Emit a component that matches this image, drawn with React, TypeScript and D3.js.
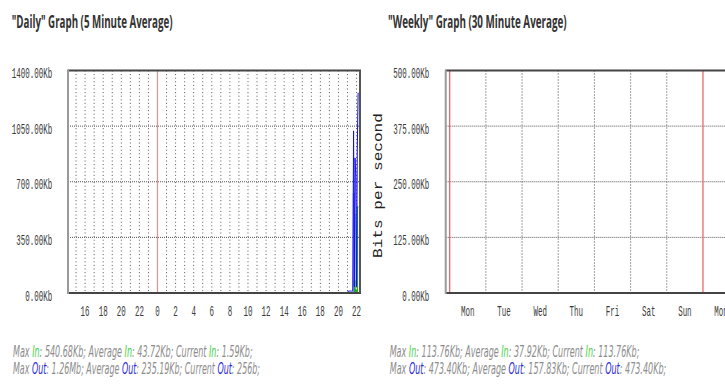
import React, { useLayoutEffect, useRef, useState } from "react";
import * as d3 from "d3";

// ---------- data ----------
const dailyTicks = [0, 350, 700, 1050, 1400];
const weeklyTicks = [0, 125, 250, 375, 500];
const dailyHourLabels = [-8, -6, -4, -2, 0, 2, 4, 6, 8, 10, 12, 14, 16, 18, 20, 22];
const dailyHourLines = [-9, -8, -7, -6, -5, -4, -3, -2, -1, 1, 2, 3, 4, 5, 6, 7, 8, 9, 10, 11, 12, 13, 14, 15, 16, 17, 18, 19, 20, 21, 22];
const weekDays = ["Mon", "Tue", "Wed", "Thu", "Fri", "Sat", "Sun", "Mon"];

// 5-minute samples (hours after midnight) at the end of the daily graph
const dailyTimes = [21.0, 21.08, 21.17, 21.25, 21.33, 21.42, 21.5, 21.58, 21.67, 21.75, 21.83, 21.92, 22.0, 22.08, 22.17];
const dailyOut = [0, 12, 12, 12, 12, 12, 12, 12, 1020, 40, 850, 730, 40, 900, 1260];
const dailyOutFill = [0, 0, 0, 0, 0, 0, 0, 630, 630, 630, 500, 0, 0, 0, 0];
const dailyIn = [0, 0, 0, 0, 0, 0, 0, 0, 0, 80, 20, 10, 20, 543, 540];

// weekly samples (days after Monday 00:00) – at the far right edge
const weeklyTimes = [7.85, 7.9];
const weeklyIn = [0, 113.76];
const weeklyOut = [0, 473.4];

const dailyStatsIn = ["540.68Kb", "43.72Kb", "1.59Kb"];
const dailyStatsOut = ["1.26Mb", "235.19Kb", "256b"];
const weeklyStatsIn = ["113.76Kb", "37.92Kb", "113.76Kb"];
const weeklyStatsOut = ["473.40Kb", "157.83Kb", "473.40Kb"];

// ---------- helpers ----------
function FitText({ x, y, width, anchor = "start", rotate = 0, fontFamily, fontSize, fontWeight, fontStyle, fill, children }: any) {
  const ref = useRef<SVGTextElement>(null);
  const [s, setS] = useState(1);
  useLayoutEffect(() => {
    if (ref.current) {
      const w = ref.current.getBBox().width;
      if (w > 0) setS(width / w);
    }
  }, [width]);
  return (
    <g transform={`translate(${x},${y}) rotate(${rotate}) scale(${s},1)`}>
      <text
        ref={ref}
        x={0}
        y={0}
        textAnchor={anchor}
        fontFamily={fontFamily}
        fontSize={fontSize}
        fontWeight={fontWeight}
        fontStyle={fontStyle}
        fill={fill}
      >
        {children}
      </text>
    </g>
  );
}

const AXIS_FONT = "'Liberation Mono', 'DejaVu Sans Mono', monospace";
const AXIS_SIZE = 14;
const AXIS_COLOR = "#3a3a3a";
const CHAR_W = 4.5;

function Frame({ left, right, top, bottom }: any) {
  return (
    <g>
      <line x1={left} x2={right + 1} y1={top} y2={top} stroke="#444" strokeWidth={2} />
      <line x1={left} x2={right + 1} y1={bottom} y2={bottom} stroke="#444" strokeWidth={2} />
      <line x1={right} x2={right} y1={top} y2={bottom} stroke="#555" strokeWidth={2} />
      <line x1={left} x2={left} y1={top - 1} y2={bottom + 1} stroke="#9a9a9a" strokeWidth={2} />
    </g>
  );
}

function Stats({ x, y, width1, width2, ins, outs }: any) {
  const gray = "#8c8c8c";
  const green = "#3fd23f";
  const blue = "#2a2ad8";
  const line = (name: string, color: string, vals: string[]) => (
    <>
      <tspan>Max </tspan>
      <tspan fill={color}>{name}</tspan>
      <tspan>: {vals[0]}; Average </tspan>
      <tspan fill={color}>{name}</tspan>
      <tspan>: {vals[1]}; Current </tspan>
      <tspan fill={color}>{name}</tspan>
      <tspan>: {vals[2]};</tspan>
    </>
  );
  const common = { fontFamily: "'DejaVu Sans', sans-serif", fontSize: 15, fontStyle: "italic", fill: gray };
  return (
    <g>
      <FitText x={x} y={y} width={width1} {...common}>
        {line("In", green, ins)}
      </FitText>
      <FitText x={x} y={y + 17} width={width2} {...common}>
        {line("Out", blue, outs)}
      </FitText>
    </g>
  );
}

export default function App() {
  const W = 725;
  const H = 387;
  const top = 70.5;
  const bottom = 293;

  // daily graph
  const dL = 68, dR = 360;
  const xD = d3.scaleLinear().domain([-9.89, 22.38]).range([dL, dR]);
  const yD = d3.scaleLinear().domain([0, 1400]).range([bottom, top]);

  // weekly graph
  const wL = 445.7, wR = 737.7;
  const xW = d3.scaleLinear().domain([-0.11, 7.96]).range([wL, wR]);
  const yW = d3.scaleLinear().domain([0, 500]).range([bottom, top]);

  const dIdx = dailyTimes.map((_, i) => i);
  const areaFill = d3.area<number>().x((i) => xD(dailyTimes[i])).y0(bottom).y1((i) => yD(dailyOutFill[i])).curve(d3.curveStepAfter);
  const areaIn = d3.area<number>().x((i) => xD(dailyTimes[i])).y0(bottom).y1((i) => yD(dailyIn[i])).curve(d3.curveStepAfter);
  const lineOut = d3.line<number>().x((i) => xD(dailyTimes[i])).y((i) => yD(dailyOut[i]));
  const lineIn = d3.line<number>().x((i) => xD(dailyTimes[i])).y((i) => yD(dailyIn[i])).curve(d3.curveStepAfter);

  const wIdx = weeklyTimes.map((_, i) => i);
  const wAreaIn = d3.area<number>().x((i) => xW(weeklyTimes[i])).y0(bottom).y1((i) => yW(weeklyIn[i])).curve(d3.curveStepAfter);
  const wLineOut = d3.line<number>().x((i) => xW(weeklyTimes[i])).y((i) => yW(weeklyOut[i])).curve(d3.curveStepAfter);

  const fmt = (v: number) => v.toFixed(2) + "Kb";

  return (
    <svg width={W} height={H} style={{ position: "absolute", left: 0, top: 0, background: "#fff" }}>
      <rect width={W} height={H} fill="#fff" />

      {/* titles */}
      <FitText x={11.7} y={28} width={161} fontFamily="'Open Sans', 'DejaVu Sans', sans-serif" fontSize={17} fontWeight="bold" fill="#333">
        "Daily" Graph (5 Minute Average)
      </FitText>
      <FitText x={388} y={28} width={179} fontFamily="'Open Sans', 'DejaVu Sans', sans-serif" fontSize={17} fontWeight="bold" fill="#333">
        "Weekly" Graph (30 Minute Average)
      </FitText>

      {/* ---------- daily ---------- */}
      <g>
        {dailyHourLines.map((h) => (
          <line key={h} x1={xD(h)} x2={xD(h)} y1={top} y2={bottom} stroke="#555" strokeWidth={1} strokeDasharray="1,2.6" />
        ))}
        {dailyTicks.slice(1, -1).map((t) => (
          <line key={t} x1={dL} x2={dR} y1={yD(t)} y2={yD(t)} stroke="#555" strokeWidth={1} strokeDasharray="1,1" />
        ))}
        <line x1={xD(0)} x2={xD(0)} y1={top} y2={bottom} stroke="#f28c8c" strokeWidth={1.2} />
        <path d={areaFill(dIdx) || ""} fill="#a4a4f6" />
        <path d={areaIn(dIdx) || ""} fill="#22b822" />
        <path d={lineIn(dIdx) || ""} fill="none" stroke="#1aa01a" strokeWidth={1} />
        <path d={lineOut(dIdx) || ""} fill="none" stroke="#1010ee" strokeWidth={1} />
        <Frame left={dL} right={dR} top={top} bottom={bottom} />
        {dailyTicks.map((t) => {
          const s = fmt(t);
          return (
            <FitText key={t} x={52.3} y={yD(t) + 7.5} width={s.length * CHAR_W} anchor="end" fontFamily={AXIS_FONT} fontSize={AXIS_SIZE} fill={AXIS_COLOR}>
              {s}
            </FitText>
          );
        })}
        {dailyHourLabels.map((h) => {
          const s = String((h + 24) % 24);
          return (
            <FitText key={h} x={xD(h)} y={316} width={s.length * CHAR_W} anchor="middle" fontFamily={AXIS_FONT} fontSize={AXIS_SIZE} fill={AXIS_COLOR}>
              {s}
            </FitText>
          );
        })}
      </g>

      {/* y-axis title */}
      <FitText x={381.5} y={185.5} width={145} anchor="middle" rotate={-90} fontFamily="'Liberation Mono', 'DejaVu Sans Mono', monospace" fontSize={13} fill="#222">
        Bits per second
      </FitText>

      {/* ---------- weekly ---------- */}
      <g>
        {[1, 2, 3, 4, 5, 6].map((d) => (
          <line key={d} x1={xW(d)} x2={xW(d)} y1={top} y2={bottom} stroke="#444" strokeWidth={1} strokeDasharray="1,2" />
        ))}
        {weeklyTicks.slice(1, -1).map((t) => (
          <line key={t} x1={wL} x2={wR} y1={yW(t)} y2={yW(t)} stroke="#555" strokeWidth={1} strokeDasharray="1,1" />
        ))}
        {[0, 7].map((d) => (
          <line key={d} x1={xW(d)} x2={xW(d)} y1={top} y2={bottom} stroke="#ee5a5a" strokeWidth={1.2} />
        ))}
        <path d={wAreaIn(wIdx) || ""} fill="#22b822" />
        <path d={wLineOut(wIdx) || ""} fill="none" stroke="#1010ee" strokeWidth={1.4} />
        <Frame left={wL} right={wR} top={top} bottom={bottom} />
        {weeklyTicks.map((t) => {
          const s = fmt(t);
          return (
            <FitText key={t} x={429.3} y={yW(t) + 7.5} width={s.length * CHAR_W} anchor="end" fontFamily={AXIS_FONT} fontSize={AXIS_SIZE} fill={AXIS_COLOR}>
              {s}
            </FitText>
          );
        })}
        {weekDays.map((name, i) => (
          <FitText key={i} x={xW(i + 0.5)} y={316} width={name.length * CHAR_W} anchor="middle" fontFamily={AXIS_FONT} fontSize={AXIS_SIZE} fill={AXIS_COLOR}>
            {name}
          </FitText>
        ))}
      </g>

      {/* stats */}
      <Stats x={13} y={357} width1={240} width2={247} ins={dailyStatsIn} outs={dailyStatsOut} />
      <Stats x={389.7} y={357} width1={250} width2={277} ins={weeklyStatsIn} outs={weeklyStatsOut} />
    </svg>
  );
}
